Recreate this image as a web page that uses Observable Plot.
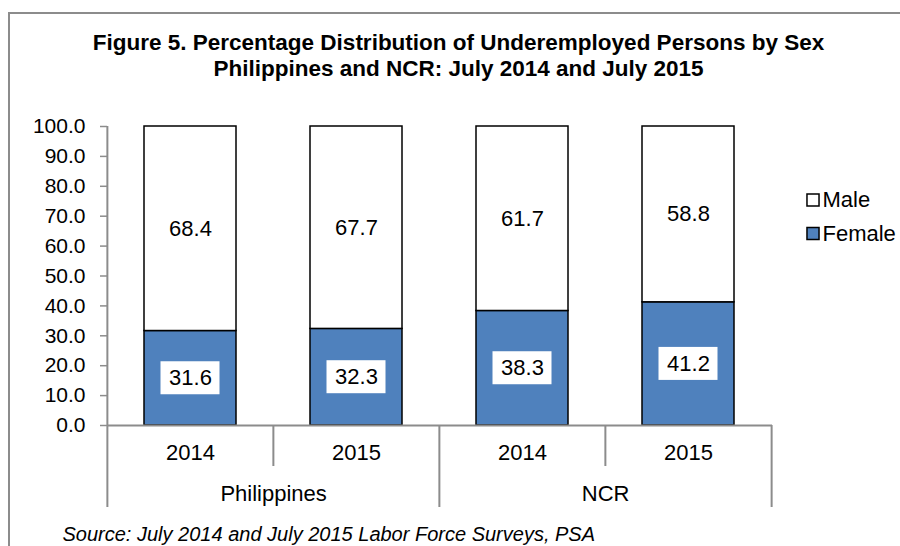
<!DOCTYPE html>
<html><head><meta charset="utf-8">
<script src="https://cdn.jsdelivr.net/npm/d3@7"></script>
<script src="https://cdn.jsdelivr.net/npm/@observablehq/plot@0.6"></script>
<style>
body{margin:0;background:#fff;}
#wrap{position:relative;width:900px;height:546px;overflow:hidden;background:#fff;}
#border{position:absolute;left:8px;top:12px;width:900px;height:600px;border:2px solid #8c8c8c;box-sizing:border-box;}
#chart{position:absolute;left:0;top:0;}
</style></head><body>
<div id="wrap"><div id="border"></div><div id="chart"></div></div>
<script>
// ---- data ----
const regions = ["Philippines", "Philippines", "NCR", "NCR"];
const years = ["2014", "2015", "2014", "2015"];
const female = [31.6, 32.3, 38.3, 41.2];
const male = [68.4, 67.7, 61.7, 58.8];
const groups = ["Philippines", "NCR"];
const yTicks = [0, 10, 20, 30, 40, 50, 60, 70, 80, 90, 100];
const legendLabels = ["Male", "Female"];
const legendColors = ["white", "#4F81BD"];
const titleText = "Figure 5. Percentage Distribution of Underemployed Persons by Sex\nPhilippines and NCR: July 2014 and July 2015";
const sourceText = "Source: July 2014 and July 2015 Labor Force Surveys, PSA";

// ---- layout ----
const W = 900, H = 546, mL = 107, mR = 128, mT = 126, mB = 121;
const frameW = W - mL - mR, frameH = H - mT - mB;
const step = frameW / regions.length;
const blue = "#4F81BD", axisGray = "#8c8c8c";
const font = "'Liberation Sans', Arial, sans-serif";

const data = regions.map((r, i) => ({key: r + " " + years[i], region: r, year: years[i], female: female[i], male: male[i]}));
const keys = data.map(d => d.key);
const groupFirst = groups.map(g => data.find(d => d.region === g).key);
const firstKey = keys[0];
const lastKey = keys[keys.length - 1];
const innerKeys = keys.filter(k => !groupFirst.includes(k));
const legend = legendLabels.map((l, i) => ({label: l, color: legendColors[i], i}));

const legendMarks = legend.flatMap(d => [
  Plot.dot([d], {frameAnchor: "top-right", dx: 40.5, dy: 73.5 + d.i * 33.5, symbol: "square", r: 6.8,
    fill: "color", stroke: "black", strokeWidth: 1.5}),
  Plot.text([d], {frameAnchor: "top-right", dx: 50, dy: 73.5 + d.i * 33.5, text: "label", textAnchor: "start", lineAnchor: "middle", fontSize: 22, fill: "black"})
]);

const chart = Plot.plot({
  width: W, height: H,
  marginLeft: mL, marginRight: mR, marginTop: mT, marginBottom: mB,
  style: {fontFamily: font, background: "transparent", overflow: "visible"},
  x: {type: "band", domain: keys, paddingInner: 0.445, paddingOuter: 0.2225, axis: null},
  y: {domain: [0, 100], axis: null, label: null},
  marks: [
    // stacked bars
    Plot.barY(data, {x: "key", y1: 0, y2: "female", fill: blue, stroke: "black", strokeWidth: 1.5}),
    Plot.barY(data, {x: "key", y1: "female", y2: d => d.female + d.male, fill: "white", stroke: "black", strokeWidth: 1.5}),
    // white label boxes in female segment
    Plot.barY(data, {x: "key", y1: d => d.female / 2, y2: d => d.female / 2, fill: "white",
      insetLeft: 16.5, insetRight: 16.5, insetTop: -16.5, insetBottom: -16.5}),
    Plot.text(data, {x: "key", y: d => d.female / 2, text: d => d.female.toFixed(1), fontSize: 22, fill: "black"}),
    Plot.text(data, {x: "key", y: d => d.female + d.male / 2, text: d => d.male.toFixed(1), fontSize: 22, fill: "black"}),
    // y axis
    Plot.axisY({ticks: yTicks, tickFormat: d => d.toFixed(1), label: null, tickSize: 7, tickPadding: 15, fontSize: 21, stroke: axisGray, strokeWidth: 1.5, fill: "black"}),
    // x axis line
    Plot.ruleY([0], {stroke: axisGray, strokeWidth: 2}),
    // y axis line, extended down as outer group separator
    Plot.ruleX([firstKey], {x: d => d, dx: -step / 2, stroke: axisGray, strokeWidth: 2, insetBottom: -82}),
    // other group separators (below axis only)
    Plot.ruleX(groupFirst.slice(1), {x: d => d, dx: -step / 2, stroke: axisGray, strokeWidth: 2, insetTop: frameH, insetBottom: -82}),
    Plot.ruleX([lastKey], {x: d => d, dx: step / 2, stroke: axisGray, strokeWidth: 2, insetTop: frameH, insetBottom: -82}),
    // inner separators (short)
    Plot.ruleX(innerKeys, {x: d => d, dx: -step / 2, stroke: axisGray, strokeWidth: 2, insetTop: frameH, insetBottom: -41}),
    // category labels
    Plot.text(data, {x: "key", frameAnchor: "bottom", text: "year", lineAnchor: "middle", dy: 27, fontSize: 22, fill: "black"}),
    Plot.text(groupFirst, {x: d => d, frameAnchor: "bottom", text: d => d.split(" ")[0], lineAnchor: "middle", dx: step / 2, dy: 68, fontSize: 22, fill: "black"}),
    // title
    Plot.text([titleText], {frameAnchor: "top", text: d => d, lineAnchor: "middle", dx: 458 - (mL + frameW / 2), dy: -72, lineHeight: 1.15, fontSize: 22.5, fontWeight: "bold", fill: "black"}),
    // source
    Plot.text([sourceText], {frameAnchor: "bottom-left", text: d => d, textAnchor: "start", lineAnchor: "middle", dx: -45, dy: 109, fontSize: 20, fontStyle: "italic", fill: "black"}),
    // legend
    ...legendMarks
  ]
});
document.getElementById("chart").appendChild(chart);
</script>
</body></html>
